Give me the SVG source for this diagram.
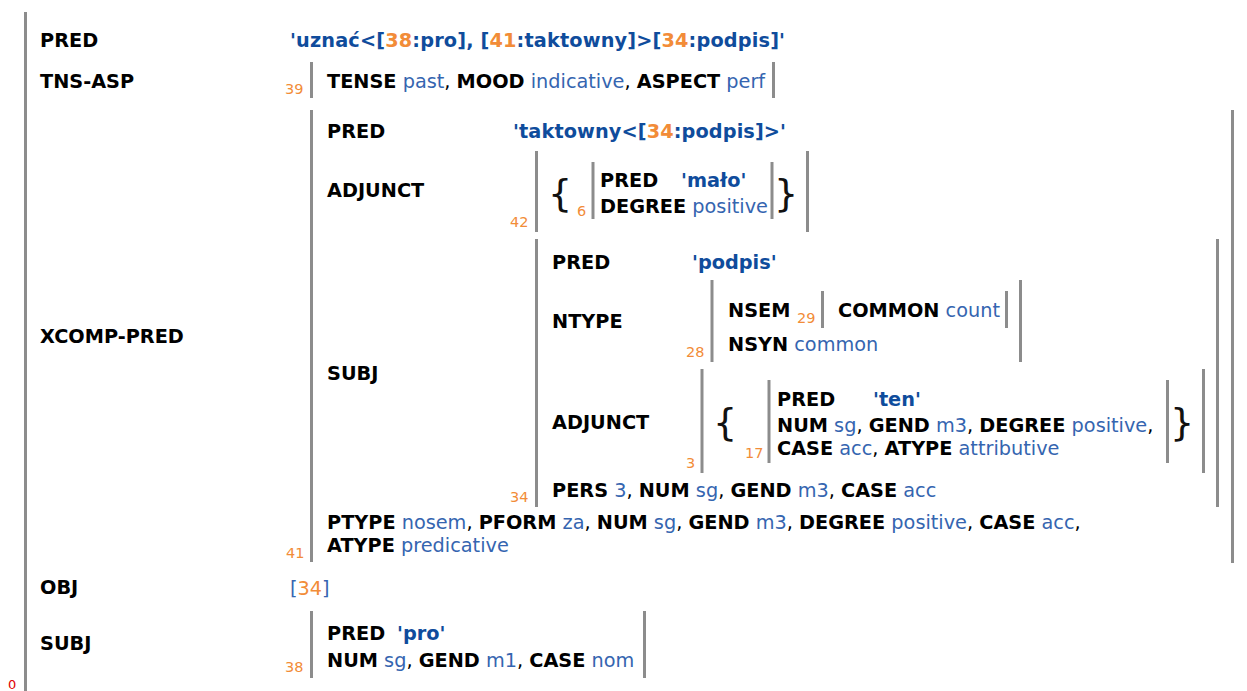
<svg xmlns="http://www.w3.org/2000/svg" width="1247" height="691" viewBox="0 0 1247 691">
<style>
text{font-family:'DejaVu Sans',Verdana,sans-serif;font-size:19.3px}
.k{font-weight:bold;fill:#000}
.v{fill:#3565b0}
.c{fill:#000}
.p{font-weight:bold;fill:#0f4c9c}
.o{fill:#f28c38}
.n{font-size:14.5px;fill:#f28c38}
.b{stroke:#8c8c8c;stroke-width:3;fill:none}
.br{font-size:38px;fill:#111}
.r{font-size:13px;fill:#e00000}
</style>
<rect width="1247" height="691" fill="#fff"/>
<g id="connectors"/>
<g id="f0">
<line class="b" x1="25.5" y1="12" x2="25.5" y2="691"/>
<text class="r" x="8" y="689">0</text>
<text class="k" x="40" y="47">PRED</text>
<text class="p" x="290" y="47" textLength="495" lengthAdjust="spacing">'uznać&lt;[<tspan class="o">38</tspan>:pro], [<tspan class="o">41</tspan>:taktowny]&gt;[<tspan class="o">34</tspan>:podpis]'</text>
<text class="k" x="40" y="88">TNS-ASP</text>
<text class="k" x="40" y="343">XCOMP-PRED</text>
<text class="k" x="40" y="594">OBJ</text>
<text class="k" x="40" y="650">SUBJ</text>
</g>
<g id="f39">
<line class="b" x1="311.5" y1="62" x2="311.5" y2="98"/>
<line class="b" x1="773.5" y1="62" x2="773.5" y2="98"/>
<text class="n" x="285" y="94">39</text>
<text x="327" y="88"><tspan class="k">TENSE</tspan><tspan class="v"> past</tspan><tspan class="c">, </tspan><tspan class="k">MOOD</tspan><tspan class="v"> indicative</tspan><tspan class="c">, </tspan><tspan class="k">ASPECT</tspan><tspan class="v"> perf</tspan></text>
</g>
<g id="f41">
<line class="b" x1="311.5" y1="110" x2="311.5" y2="562"/>
<line class="b" x1="1232.5" y1="110" x2="1232.5" y2="563"/>
<text class="n" x="286" y="558">41</text>
<text class="k" x="327" y="138">PRED</text>
<text class="p" x="513" y="138" textLength="273" lengthAdjust="spacing">'taktowny&lt;[<tspan class="o">34</tspan>:podpis]&gt;'</text>
<text class="k" x="327" y="197">ADJUNCT</text>
<text class="k" x="327" y="380">SUBJ</text>
<text x="327" y="529"><tspan class="k">PTYPE</tspan><tspan class="v"> nosem</tspan><tspan class="c">, </tspan><tspan class="k">PFORM</tspan><tspan class="v"> za</tspan><tspan class="c">, </tspan><tspan class="k">NUM</tspan><tspan class="v"> sg</tspan><tspan class="c">, </tspan><tspan class="k">GEND</tspan><tspan class="v"> m3</tspan><tspan class="c">, </tspan><tspan class="k">DEGREE</tspan><tspan class="v"> positive</tspan><tspan class="c">, </tspan><tspan class="k">CASE</tspan><tspan class="v"> acc</tspan><tspan class="c">,</tspan></text>
<text x="327" y="552"><tspan class="k">ATYPE</tspan><tspan class="v"> predicative</tspan></text>
</g>
<g id="f42">
<line class="b" x1="536.5" y1="151" x2="536.5" y2="232"/>
<line class="b" x1="807.5" y1="151" x2="807.5" y2="232"/>
<text class="n" x="510" y="227">42</text>
<text class="br" x="548" y="206">{</text>
<text class="br" x="774" y="206">}</text>
</g>
<g id="f6">
<line class="b" x1="593" y1="162" x2="593" y2="219"/>
<line class="b" x1="772" y1="162" x2="772" y2="219"/>
<text class="n" x="577" y="216">6</text>
<text class="k" x="600" y="187">PRED</text>
<text class="p" x="681" y="187">'mało'</text>
<text x="600" y="213"><tspan class="k">DEGREE</tspan><tspan class="v"> positive</tspan></text>
</g>
<g id="f34">
<line class="b" x1="536.5" y1="239" x2="536.5" y2="507"/>
<line class="b" x1="1217.5" y1="239" x2="1217.5" y2="507"/>
<text class="n" x="510" y="502">34</text>
<text class="k" x="552" y="269">PRED</text>
<text class="p" x="692" y="269">'podpis'</text>
<text class="k" x="552" y="328">NTYPE</text>
<text class="k" x="552" y="429">ADJUNCT</text>
<text x="552" y="497"><tspan class="k">PERS</tspan><tspan class="v"> 3</tspan><tspan class="c">, </tspan><tspan class="k">NUM</tspan><tspan class="v"> sg</tspan><tspan class="c">, </tspan><tspan class="k">GEND</tspan><tspan class="v"> m3</tspan><tspan class="c">, </tspan><tspan class="k">CASE</tspan><tspan class="v"> acc</tspan></text>
</g>
<g id="f28">
<line class="b" x1="712" y1="280" x2="712" y2="362"/>
<line class="b" x1="1020.5" y1="280" x2="1020.5" y2="362"/>
<text class="n" x="686" y="357">28</text>
<text class="k" x="728" y="317">NSEM</text>
<text x="728" y="351"><tspan class="k">NSYN</tspan><tspan class="v"> common</tspan></text>
</g>
<g id="f29">
<line class="b" x1="822.5" y1="291" x2="822.5" y2="328"/>
<line class="b" x1="1006.5" y1="291" x2="1006.5" y2="328"/>
<text class="n" x="797" y="323">29</text>
<text x="838" y="317"><tspan class="k">COMMON</tspan><tspan class="v"> count</tspan></text>
</g>
<g id="f3">
<line class="b" x1="702" y1="369" x2="702" y2="473"/>
<line class="b" x1="1203.5" y1="369" x2="1203.5" y2="473"/>
<text class="n" x="686" y="468">3</text>
<text class="br" x="713" y="435">{</text>
<text class="br" x="1170" y="435">}</text>
</g>
<g id="f17">
<line class="b" x1="769" y1="380" x2="769" y2="463"/>
<line class="b" x1="1167.5" y1="380" x2="1167.5" y2="463"/>
<text class="n" x="745" y="458">17</text>
<text class="k" x="777" y="406">PRED</text>
<text class="p" x="873" y="406">'ten'</text>
<text x="777" y="432"><tspan class="k">NUM</tspan><tspan class="v"> sg</tspan><tspan class="c">, </tspan><tspan class="k">GEND</tspan><tspan class="v"> m3</tspan><tspan class="c">, </tspan><tspan class="k">DEGREE</tspan><tspan class="v"> positive</tspan><tspan class="c">,</tspan></text>
<text x="777" y="455"><tspan class="k">CASE</tspan><tspan class="v"> acc</tspan><tspan class="c">, </tspan><tspan class="k">ATYPE</tspan><tspan class="v"> attributive</tspan></text>
</g>
<g id="obj">
<text x="290" y="595"><tspan class="v">[</tspan><tspan class="o">34</tspan><tspan class="v">]</tspan></text>
</g>
<g id="f38">
<line class="b" x1="311.5" y1="611" x2="311.5" y2="678"/>
<line class="b" x1="644.5" y1="611" x2="644.5" y2="678"/>
<text class="n" x="285" y="672">38</text>
<text class="k" x="327" y="640">PRED</text>
<text class="p" x="397" y="640">'pro'</text>
<text x="327" y="667"><tspan class="k">NUM</tspan><tspan class="v"> sg</tspan><tspan class="c">, </tspan><tspan class="k">GEND</tspan><tspan class="v"> m1</tspan><tspan class="c">, </tspan><tspan class="k">CASE</tspan><tspan class="v"> nom</tspan></text>
</g>
</svg>
